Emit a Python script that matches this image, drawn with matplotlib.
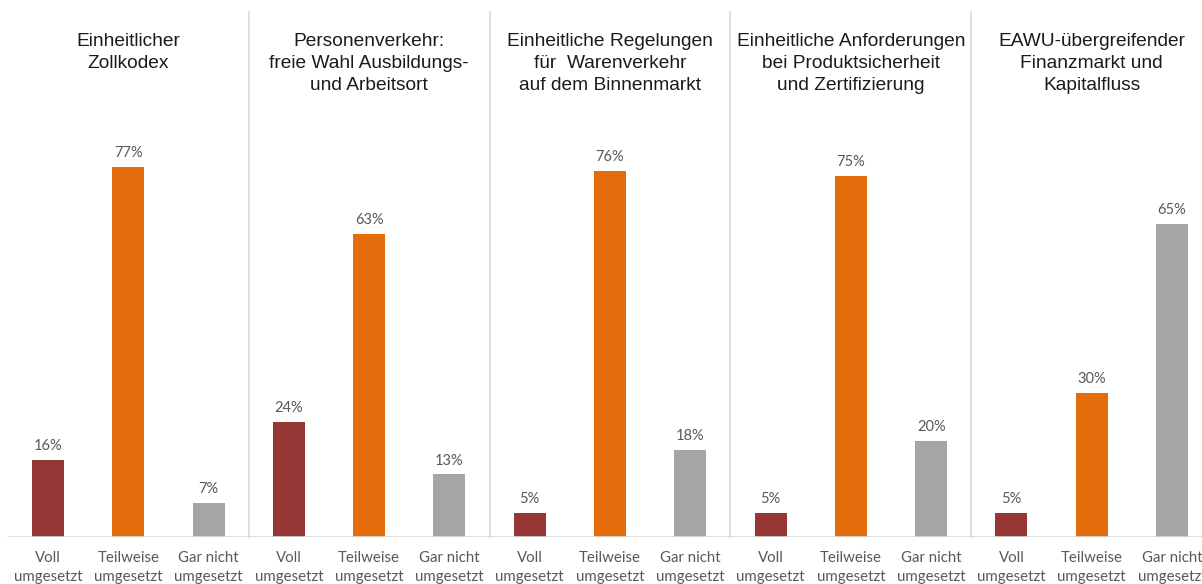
import matplotlib.pyplot as plt
from matplotlib.transforms import blended_transform_factory
import numpy as np

titles = ["Einheitlicher\nZollkodex",
          "Personenverkehr:\nfreie Wahl Ausbildungs-\nund Arbeitsort",
          "Einheitliche Regelungen\nfür  Warenverkehr\nauf dem Binnenmarkt",
          "Einheitliche Anforderungen\nbei Produktsicherheit\nund Zertifizierung",
          "EAWU-übergreifender\nFinanzmarkt und\nKapitalfluss"]
categories = ["Voll\numgesetzt", "Teilweise\numgesetzt", "Gar nicht\numgesetzt"]
voll = [16, 24, 5, 5, 5]
teilweise = [77, 63, 76, 75, 30]
gar_nicht = [7, 13, 18, 20, 65]

colors = ["#953735", "#E46C0A", "#A5A5A5"]

fig = plt.figure(figsize=(12.02, 5.84), dpi=100)
W, H = 1202, 584
base = 537
ax = fig.add_axes([0, 1 - base / H, 1, (base - 12) / H])

ppu = 4.81  # pixels per percent
ax.set_ylim(0, (base - 12) / ppu)
x0, step = 48, 80.29
ax.set_xlim(-x0 / step, (W - x0) / step)

n = len(titles)
values = np.array([voll, teilweise, gar_nicht]).T  # groups x categories
xs = np.arange(n * 3)
flat = values.flatten()
cols = colors * n
bars = ax.bar(xs, flat, width=32 / step, color=cols, zorder=2)

for x, v in zip(xs, flat):
    ax.annotate(f"{v}%", (x, v), xytext=(0, 5), textcoords="offset points",
                ha="center", va="bottom", fontsize=10.5, color="#595959",
                family="Lato")

for i in range(1, n):
    ax.plot([3 * i - 0.5, 3 * i - 0.5], [0, ax.get_ylim()[1]], color="#D9D9D9",
            lw=1.2, zorder=1, clip_on=False)

ax.axhline(0, xmin=8 / W, xmax=1, color="#D9D9D9", lw=1.2, zorder=3)

for s in ax.spines.values():
    s.set_visible(False)
ax.set_xticks([])
ax.set_yticks([])

tr = blended_transform_factory(ax.transData, fig.transFigure)
for g, t in enumerate(titles):
    ax.text(3 * g + 1, 1 - 33 / H, t, transform=tr, ha="center", va="top",
            fontsize=13.8, family="Liberation Sans", color="#1a1a1a",
            linespacing=1.38)
    for c, lab in enumerate(categories):
        ax.text(3 * g + c, 1 - 551 / H, lab, transform=tr, ha="center", va="top",
                fontsize=10.8, family="Lato", color="#595959", linespacing=1.42)

fig.savefig("out.png", dpi=100)
